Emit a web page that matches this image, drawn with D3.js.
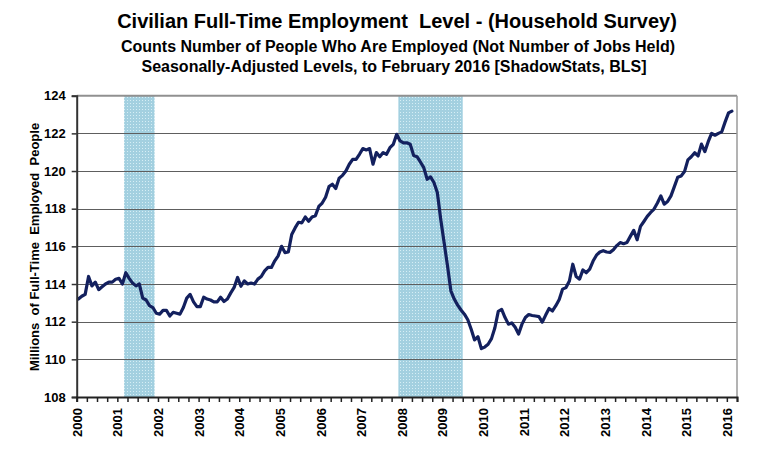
<!DOCTYPE html>
<html>
<head>
<meta charset="utf-8">
<script src="https://cdn.jsdelivr.net/npm/d3@7/dist/d3.min.js"></script>
<style>
  html, body { margin: 0; padding: 0; background: #fff; }
  svg { display: block; font-family: "Liberation Sans", Arial, sans-serif; }
</style>
</head>
<body>
<svg id="chart" width="781" height="463"></svg>
<script>
// ---- Data (millions, monthly, Jan 2000 .. Feb 2016) ----
const startYear = 2000;
const v2000 = [113.2, 113.35, 113.45, 114.4, 113.9, 114.1, 113.7, 113.85, 114.0, 114.1, 114.1, 114.25];
const v2001 = [114.3, 114.0, 114.6, 114.3, 114.05, 113.9, 114.0, 113.25, 113.15, 112.85, 112.75, 112.45];
const v2002 = [112.4, 112.6, 112.6, 112.3, 112.5, 112.45, 112.4, 112.75, 113.25, 113.45, 113.05, 112.8];
const v2003 = [112.8, 113.3, 113.2, 113.15, 113.05, 113.05, 113.3, 113.07, 113.2, 113.53, 113.82, 114.35];
const v2004 = [113.88, 114.17, 114.0, 114.05, 114.0, 114.26, 114.4, 114.7, 114.88, 114.88, 115.23, 115.5];
const v2005 = [116.0, 115.67, 115.7, 116.63, 116.98, 117.28, 117.25, 117.56, 117.33, 117.56, 117.63, 118.12];
const v2006 = [118.3, 118.61, 119.17, 119.3, 119.07, 119.62, 119.77, 120.0, 120.36, 120.62, 120.62, 120.89];
const v2007 = [121.19, 121.12, 121.19, 120.36, 120.98, 120.76, 120.98, 120.89, 121.24, 121.42, 121.95, 121.6];
const v2008 = [121.5, 121.5, 121.42, 120.83, 120.76, 120.48, 120.18, 119.56, 119.69, 119.39, 118.86, 117.44];
const v2009 = [116.2, 114.97, 113.64, 113.2, 112.88, 112.62, 112.4, 112.1, 111.6, 111.03, 111.2, 110.57];
const v2010 = [110.65, 110.8, 111.1, 111.68, 112.55, 112.65, 112.22, 111.87, 111.93, 111.7, 111.34, 111.87];
const v2011 = [112.22, 112.38, 112.33, 112.3, 112.27, 111.98, 112.35, 112.7, 112.57, 112.85, 113.18, 113.73];
const v2012 = [113.81, 114.16, 115.05, 114.4, 114.26, 114.75, 114.6, 114.79, 115.22, 115.53, 115.7, 115.77];
const v2013 = [115.7, 115.68, 115.82, 116.04, 116.2, 116.14, 116.2, 116.53, 116.85, 116.35, 117.06, 117.32];
const v2014 = [117.59, 117.8, 117.98, 118.3, 118.68, 118.24, 118.38, 118.68, 119.17, 119.67, 119.74, 119.97];
const v2015 = [120.59, 120.76, 120.97, 120.8, 121.43, 121.03, 121.56, 122.0, 121.9, 122.0, 122.08, 122.61];
const v2016 = [123.09, 123.18];

// Recessions as [start month index, end month index (exclusive)] counted from Jan 2000
const recessions = [[14, 23], [95, 114]];

const yTicks = [108, 110, 112, 114, 116, 118, 120, 122, 124];
const yearLabels = ["2000","2001","2002","2003","2004","2005","2006","2007","2008","2009","2010","2011","2012","2013","2014","2015","2016"];

const titleLines = [
  "Civilian Full-Time Employment  Level - (Household Survey)",
  "Counts Number of People Who Are Employed (Not Number of Jobs Held)",
  "Seasonally-Adjusted Levels, to February 2016 [ShadowStats, BLS]"
];
const yAxisTitle = "Millions  of Full-Time  Employed  People";

// ---- Build series ----
const values = [].concat(v2000, v2001, v2002, v2003, v2004, v2005, v2006, v2007,
  v2008, v2009, v2010, v2011, v2012, v2013, v2014, v2015, v2016);
const data = values.map((v, i) => ({ i, v }));

// ---- Layout ----
const svg = d3.select("#chart");
const L = 76.7, R = 737, T = 95.7, B = 397;
const nCats = 195;

const x = d3.scaleLinear().domain([0, nCats]).range([L, R]);
const y = d3.scaleLinear().domain([108, 124]).range([B, T]);

// Dotted light-blue pattern for recession shading
const defs = svg.append("defs");
const pat = defs.append("pattern").attr("id", "recess").attr("patternUnits", "userSpaceOnUse")
  .attr("width", 3).attr("height", 3);
pat.append("rect").attr("width", 3).attr("height", 3).attr("fill", "#a3d0e0");
pat.append("rect").attr("x", 1).attr("y", 1).attr("width", 1).attr("height", 1).attr("fill", "#d6eef5");

svg.append("g").selectAll("rect").data(recessions).join("rect")
  .attr("x", d => x(d[0]))
  .attr("y", y(124))
  .attr("width", d => x(d[1]) - x(d[0]))
  .attr("height", y(108) - y(124))
  .attr("fill", "url(#recess)");

// Gridlines
svg.append("g").selectAll("line").data(yTicks.filter(t => t > 108 && t < 124)).join("line")
  .attr("x1", L).attr("x2", R)
  .attr("y1", d => Math.round(y(d)) + 0.5).attr("y2", d => Math.round(y(d)) + 0.5)
  .attr("stroke", "#5e5e5e").attr("stroke-width", 1);

// Top and right border
svg.append("line").attr("x1", L).attr("x2", R).attr("y1", y(124)).attr("y2", y(124))
  .attr("stroke", "#909090").attr("stroke-width", 2);
svg.append("line").attr("x1", R).attr("x2", R).attr("y1", y(124)).attr("y2", y(108))
  .attr("stroke", "#9a9a9a").attr("stroke-width", 1.5);

// Line
const line = d3.line().x(d => x(d.i + 0.5)).y(d => y(d.v)).curve(d3.curveLinear);
svg.append("path").datum(data)
  .attr("d", line)
  .attr("fill", "none")
  .attr("stroke", "#13205e")
  .attr("stroke-width", 3.2)
  .attr("stroke-linejoin", "round")
  .attr("stroke-linecap", "round");

// Y axis
const yAxis = d3.axisLeft(y).tickValues(yTicks).tickSize(5).tickPadding(6).tickFormat(d3.format("d"));
const gy = svg.append("g").attr("transform", `translate(${L},0)`).call(yAxis);
gy.select(".domain").attr("stroke", "#333").attr("stroke-width", 2);
gy.selectAll(".tick line").attr("stroke", "#333").attr("stroke-width", 1.5);
gy.selectAll(".tick text").attr("font-size", 13).attr("font-weight", "bold").attr("fill", "#000")
  .attr("font-family", "Liberation Sans, Arial, sans-serif");

// X axis (quarterly ticks)
const xTicks = d3.range(0, nCats + 1, 3);
const xAxis = d3.axisBottom(x).tickValues(xTicks).tickSize(5).tickFormat("");
const gx = svg.append("g").attr("transform", `translate(0,${B})`).call(xAxis);
gx.select(".domain").attr("stroke", "#222").attr("stroke-width", 2);
gx.selectAll(".tick line").attr("stroke", "#222").attr("stroke-width", 1.5);

// Year labels (rotated)
svg.append("g").selectAll("text").data(yearLabels).join("text")
  .attr("transform", (d, k) => `translate(${x(k * 12) + 5},${B + 11}) rotate(-90)`)
  .attr("text-anchor", "end")
  .attr("font-size", 13).attr("font-weight", "bold").attr("fill", "#000")
  .text(d => d);

// Y axis title
svg.append("text")
  .attr("transform", `translate(${39},${247}) rotate(-90)`)
  .attr("text-anchor", "middle")
  .attr("font-size", 13).attr("font-weight", "bold").attr("fill", "#000")
  .style("white-space", "pre")
  .text(yAxisTitle);

// Titles
const tt = svg.append("g").attr("text-anchor", "middle").attr("font-weight", "bold").attr("fill", "#000");
tt.append("text").attr("x", 397).attr("y", 28).attr("font-size", 20).style("white-space", "pre").text(titleLines[0]);
tt.append("text").attr("x", 398).attr("y", 52).attr("font-size", 16).text(titleLines[1]);
tt.append("text").attr("x", 394).attr("y", 72).attr("font-size", 16).text(titleLines[2]);
</script>
</body>
</html>
